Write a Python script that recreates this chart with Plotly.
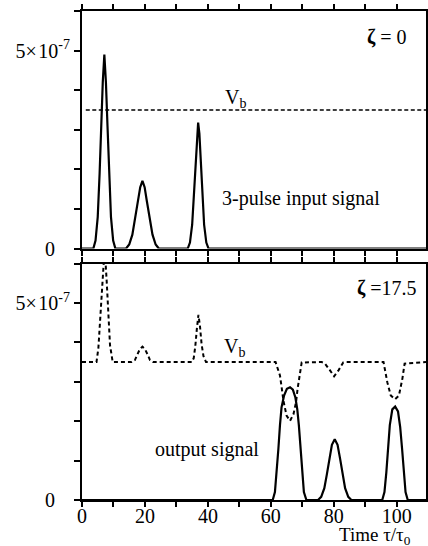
import plotly.graph_objects as go

# ---- data (values in units of 1e-7) ----
top_signal_x = [0, 3.6, 4.3, 5.0, 5.6, 6.1, 6.6, 7.1, 7.6, 8.1, 8.6, 9.2, 9.9, 10.6,
                14.0, 15.0, 16.0, 17.0, 17.8, 18.5, 19.2, 19.9, 20.6, 21.4, 22.4, 23.4, 24.4,
                33.6, 34.3, 35.0, 35.5, 36.0, 36.5, 36.9, 37.3, 37.8, 38.3, 38.8, 39.5, 40.2, 109.3]
top_signal_y = [0, 0, 0.2, 0.8, 1.9, 3.1, 4.2, 4.9, 4.2, 3.1, 1.9, 0.8, 0.2, 0,
                0, 0.1, 0.35, 0.8, 1.2, 1.55, 1.71, 1.55, 1.2, 0.8, 0.35, 0.1, 0,
                0, 0.15, 0.6, 1.3, 2.2, 2.9, 3.18, 2.9, 2.2, 1.3, 0.6, 0.15, 0, 0]

top_vb_x = [1.2, 109.3]
top_vb_y = [3.5, 3.5]

bot_vb_x = [0, 4.6, 5.2, 5.7, 6.25, 6.8, 7.2, 7.84, 8.37, 8.9, 9.75,
            15.8, 16.8, 17.6, 18.4, 19.2, 20.0, 20.8, 21.6, 22.5,
            34.9, 35.5, 36.0, 36.5, 37.0, 37.5, 38.0, 38.6, 39.4,
            61.5, 62.3, 62.9, 63.5, 64.0, 65.0, 66.1, 67.2, 68.0, 68.5, 69.1, 69.8,
            76.2, 77.2, 78.8, 80.1, 81.5, 83.0, 84.0,
            95.8, 97.0, 98.1, 99.5, 100.7, 101.8, 102.5, 109.3]
bot_vb_y = [3.5, 3.5, 3.85, 4.55, 5.3, 6.0, 6.4, 5.56, 4.7, 3.93, 3.5,
            3.5, 3.55, 3.7, 3.83, 3.89, 3.83, 3.7, 3.55, 3.5,
            3.5, 3.6, 3.9, 4.35, 4.7, 4.4, 3.95, 3.65, 3.5,
            3.5, 3.33, 3.16, 2.82, 2.52, 2.14, 2.01, 2.18, 2.48, 2.82, 3.16, 3.49,
            3.5, 3.46, 3.29, 3.14, 3.29, 3.49, 3.5,
            3.5, 2.99, 2.65, 2.56, 2.65, 3.08, 3.46, 3.5]

bot_signal_x = [0, 60.6, 61.3, 61.9, 62.4, 62.9, 63.4, 64.2, 65.1, 66.1, 67.0, 67.8, 68.4, 68.9, 69.4, 69.9, 70.5, 71.3,
                75.0, 76.0, 77.0, 77.8, 78.6, 79.4, 80.3, 81.2, 82.0, 82.8, 83.6, 84.6, 85.6,
                95.4, 96.1, 96.7, 97.2, 97.8, 98.6, 99.5, 100.4, 101.1, 101.7, 102.2, 102.8, 103.5, 109.3]
bot_signal_y = [0, 0, 0.2, 0.7, 1.3, 1.9, 2.35, 2.65, 2.82, 2.86, 2.8, 2.6, 2.3, 1.9, 1.3, 0.7, 0.2, 0,
                0, 0.08, 0.3, 0.65, 1.05, 1.4, 1.54, 1.4, 1.05, 0.65, 0.3, 0.08, 0,
                0, 0.2, 0.7, 1.3, 1.9, 2.3, 2.37, 2.25, 1.85, 1.3, 0.7, 0.2, 0, 0]

x_tick_vals = [0, 10, 20, 30, 40, 50, 60, 70, 80, 90, 100]
x_tick_text = ["0", "", "20", "", "40", "", "60", "", "80", "", "100"]
y_tick_vals = [0, 1e-7, 2e-7, 3e-7, 4e-7, 5e-7, 6e-7]
y_tick_text = ["0\u00a0\u00a0\u00a0", "", "", "", "", "5×\u200a10<sup>-7</sup>", ""]

SCALE = 1e-7
FONT = "Liberation Serif"


def sc(v):
    return [a * SCALE for a in v]


fig = go.Figure()
fig.add_trace(go.Scatter(x=top_vb_x, y=sc(top_vb_y), xaxis="x2", yaxis="y2", mode="lines",
                         line=dict(color="black", width=1.6, dash="4px,2.5px")))
fig.add_trace(go.Scatter(x=top_signal_x, y=sc(top_signal_y), xaxis="x2", yaxis="y2", mode="lines",
                         line=dict(color="black", width=2.2)))
fig.add_trace(go.Scatter(x=bot_vb_x, y=sc(bot_vb_y), xaxis="x", yaxis="y", mode="lines",
                         line=dict(color="black", width=2, dash="4px,3px")))
fig.add_trace(go.Scatter(x=bot_signal_x, y=sc(bot_signal_y), xaxis="x", yaxis="y", mode="lines",
                         line=dict(color="black", width=2.2)))

xcommon = dict(range=[0, 109.3], tickmode="array", tickvals=x_tick_vals, showline=True,
               linecolor="black", linewidth=2, mirror="ticks", ticks="outside", ticklen=5,
               tickwidth=1.5, tickcolor="black", showgrid=False, zeroline=False, automargin=False,
               tickfont=dict(family=FONT, size=20, color="black"))
ycommon = dict(range=[0, 6e-7], tickmode="array", tickvals=y_tick_vals, ticktext=y_tick_text,
               showline=True, linecolor="black", linewidth=2, mirror=True, ticks="outside",
               ticklen=6, tickwidth=1.5, tickcolor="black", showgrid=False, zeroline=False,
               automargin=False, tickfont=dict(family=FONT, size=20, color="black"))

fig.update_layout(
    width=428, height=546,
    margin=dict(l=82, r=2, t=11, b=46, autoexpand=False),
    paper_bgcolor="white", plot_bgcolor="white",
    showlegend=False,
    xaxis=dict(xcommon, anchor="y", ticktext=x_tick_text, ticklabelstandoff=-8),
    yaxis=dict(ycommon, domain=[0, 0.4836], anchor="x"),
    xaxis2=dict(xcommon, anchor="y2", matches="x", showticklabels=False),
    yaxis2=dict(ycommon, domain=[0.5143, 1], anchor="x2"),
)

tf = dict(family=FONT, size=20, color="black")
ann = [
    dict(x=96.9, y=5.34e-7, xref="x2", yref="y2", text="<b>ζ</b> = 0", size=20),
    dict(x=48.9, y=3.8e-7, xref="x2", yref="y2", text="V<sub>b</sub>", size=20),
    dict(x=69.6, y=1.26e-7, xref="x2", yref="y2", text="3-pulse input signal", size=20),
    dict(x=96.9, y=5.37e-7, xref="x", yref="y", text="<b>ζ</b> =17.5", size=20),
    dict(x=48.6, y=3.87e-7, xref="x", yref="y", text="V<sub>b</sub>", size=20),
    dict(x=39.7, y=1.28e-7, xref="x", yref="y", text="output signal", size=20),
    dict(x=0.852, y=-0.0745, xref="paper", yref="paper", text="Time τ/τ<sub>0</sub>", size=19),
]
for a in ann:
    s = a.pop("size")
    fig.add_annotation(**a, showarrow=False, font=dict(family=FONT, size=s, color="black"),
                       xanchor="center", yanchor="middle")

fig.write_html("out.html", config={"displayModeBar": False},
               post_script="document.body.style.margin='0px';")
